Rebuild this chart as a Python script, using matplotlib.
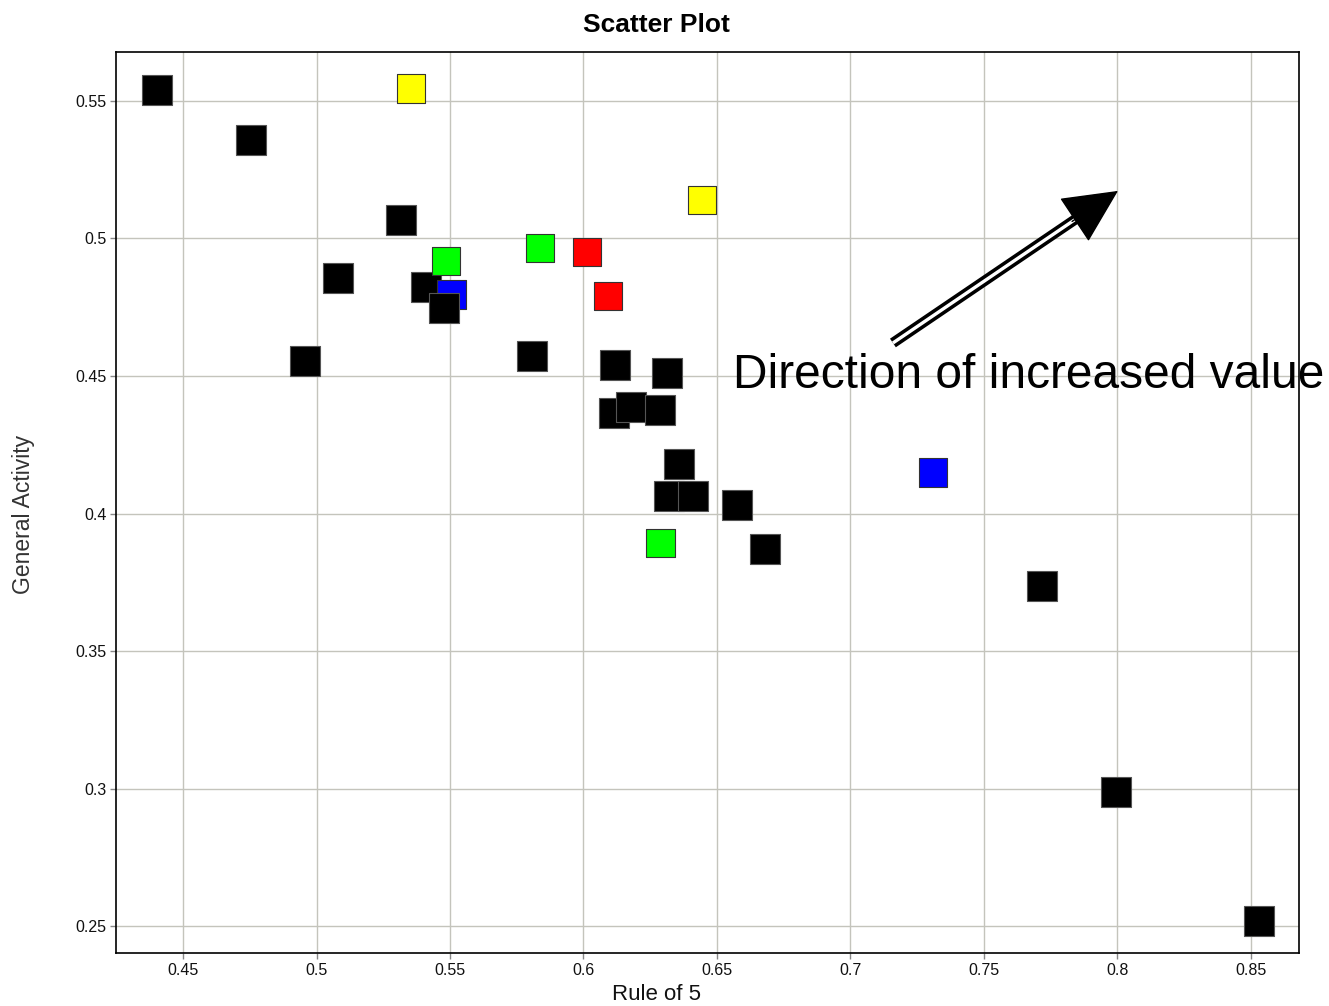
import matplotlib
matplotlib.use("Agg")
import matplotlib.pyplot as plt

plt.rcParams['font.family'] = ['Liberation Sans', 'DejaVu Sans']

# Data: (Rule of 5, General Activity, colour) in drawing order
rule_of_5 = [0.4403, 0.4755, 0.5316, 0.5080, 0.4957, 0.5410, 0.5507, 0.5478,
             0.5807, 0.6118, 0.6313, 0.6114, 0.6178, 0.6287, 0.6358, 0.6320,
             0.6410, 0.6575, 0.6680, 0.7717, 0.7994, 0.8530,
             0.5354, 0.6444, 0.5485, 0.5837, 0.6287, 0.6013, 0.6092, 0.7309]
general_activity = [0.5540, 0.5358, 0.5067, 0.4856, 0.4555, 0.4824, 0.4795, 0.4747,
                    0.4573, 0.4540, 0.4511, 0.4365, 0.4387, 0.4376, 0.4180, 0.4064,
                    0.4064, 0.4031, 0.3871, 0.3736, 0.2987, 0.2518,
                    0.5544, 0.5140, 0.4918, 0.4965, 0.3893, 0.4951, 0.4791, 0.4149]
point_colors = ['black'] * 6 + ['#0000ff'] + ['black'] * 15 + \
               ['#ffff00', '#ffff00', '#00ff00', '#00ff00', '#00ff00', '#ff0000', '#ff0000', '#0000ff']

x_ticks = [0.45, 0.5, 0.55, 0.6, 0.65, 0.7, 0.75, 0.8, 0.85]
x_tick_labels = ['0.45', '0.5', '0.55', '0.6', '0.65', '0.7', '0.75', '0.8', '0.85']
y_ticks = [0.25, 0.3, 0.35, 0.4, 0.45, 0.5, 0.55]
y_tick_labels = ['0.25', '0.3', '0.35', '0.4', '0.45', '0.5', '0.55']

fig = plt.figure(figsize=(13.29, 10.06), dpi=100)
ax = fig.add_axes([116/1329, 1 - 953/1006, (1299-116)/1329, (953-52)/1006])

ax.set_xlim(0.4249, 0.868)
ax.set_ylim(0.2402, 0.5678)

ax.grid(True, color='#c4c4bc', linewidth=1.0, zorder=0)
ax.set_axisbelow(True)

edgecols = ['#555555' if c == 'black' else '#333333' for c in point_colors]
sizes = [470 if c == 'black' else 430 for c in point_colors]
ax.scatter(rule_of_5, general_activity, s=sizes, marker='s', c=point_colors,
           edgecolors=edgecols, linewidths=0.8, zorder=3)

ax.set_xticks(x_ticks)
ax.set_xticklabels(x_tick_labels)
ax.set_yticks(y_ticks)
ax.set_yticklabels(y_tick_labels)
ax.tick_params(axis='both', length=4, width=1, color='#888888', labelsize=11.5, pad=3,
               labelcolor='#111111')

for sp in ax.spines.values():
    sp.set_linewidth(1.2)
    sp.set_color('black')

fig.text(656/1329, 1 - 25/1006, 'Scatter Plot', fontsize=19, fontweight='bold',
         ha='center', va='center')
ax.set_xlabel('Rule of 5', fontsize=16, color='#111111')
ax.xaxis.set_label_coords((656-116)/1183, -(994-953)/901)
ax.xaxis.label.set_va('center')
ax.set_ylabel('General Activity', fontsize=16.5, color='#333333')
ax.yaxis.set_label_coords((24-116)/1183, (953-514)/901)
ax.yaxis.label.set_va('center')

# Annotation arrow (double-line shaft with solid head)
tail = (0.7159, 0.4620)
head_base = (0.7855, 0.5078)
tip = (0.8002, 0.5173)
ax.plot([tail[0], head_base[0]], [tail[1], head_base[1]], color='black', lw=7.5,
        solid_capstyle='butt', zorder=5)
ax.plot([tail[0], head_base[0]], [tail[1], head_base[1]], color='white', lw=2.4,
        solid_capstyle='butt', zorder=6)
ax.annotate('', xy=tip, xytext=(0.7830, 0.5062),
            arrowprops=dict(arrowstyle='-|>,head_length=3.6,head_width=1.75',
                            mutation_scale=10, color='black', lw=1,
                            shrinkA=0, shrinkB=0), zorder=7)

ax.text(0.656, 0.4456, 'Direction of increased value', fontsize=34.5,
        ha='left', va='baseline', color='black', clip_on=False, zorder=8)

fig.savefig('out.png', dpi=100)
